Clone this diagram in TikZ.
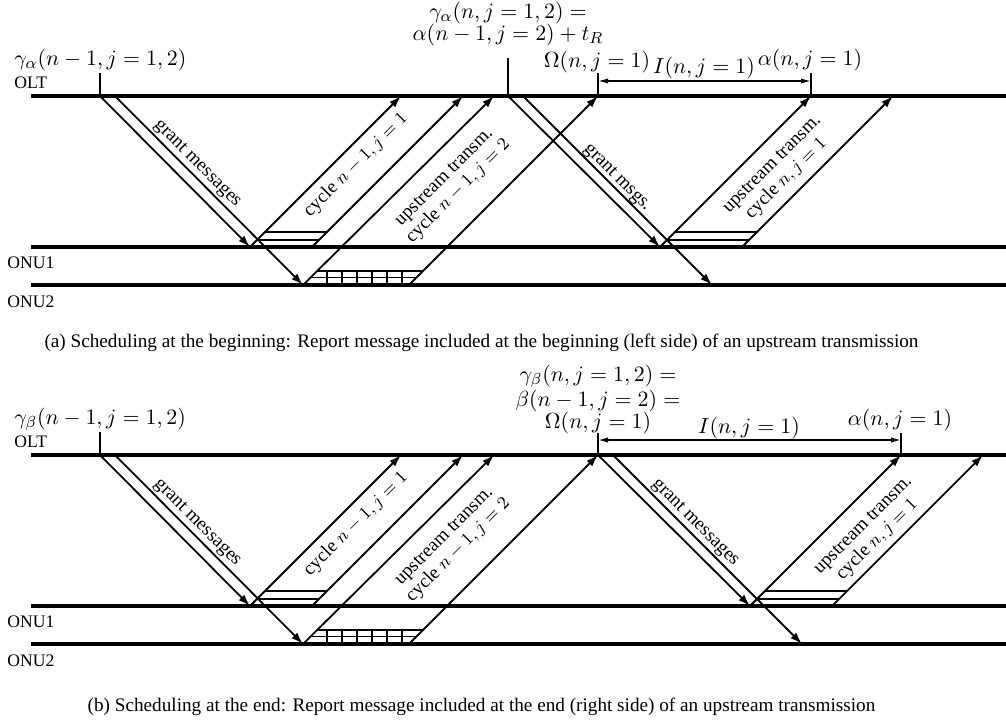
\documentclass[tikz,border=0pt]{standalone}
\usepackage[no-math]{fontspec}
\setmainfont{Liberation Serif}
\usepackage{tikz}
\usetikzlibrary{
    arrows.meta,
    positioning,
    calc,
}
\tikzset{
    axisline/.style={line width=1.6pt},
    msgline/.style={line width=0.9pt},
    msgarrow/.style={line width=0.9pt, -{Latex[length=6pt,width=4pt]}},
    tickline/.style={line width=1pt},
    dimline/.style={line width=0.7pt, {Latex[length=5pt,width=2.6pt]}-{Latex[length=5pt,width=2.6pt]}},
    devlabel/.style={font=\fontsize{8.8}{10}\selectfont, inner sep=0pt, anchor=base west},
    mathlabel/.style={font=\fontsize{11}{11}\selectfont, inner sep=0pt, align=center},
    slantlabel/.style={font=\fontsize{9.5}{10}\selectfont, inner sep=0pt, align=center},
    captlabel/.style={font=\fontsize{9.6}{11}\selectfont, inner sep=0pt, anchor=base},
}

\begin{document}
\begin{tikzpicture}[x=0.5pt, y=-0.5pt]
    \useasboundingbox (0,0) rectangle (1006,723);
    \foreach \p/\oy in {a/0, b/359} {
        \foreach \dev/\y/\lx/\ly in {OLT/96/14/88, ONU1/247/7/268, ONU2/285/7/307} {
            \coordinate (\dev-\p-w) at (31,\y+\oy);
            \coordinate (\dev-\p-e) at (1006,\y+\oy);
            \draw[axisline] (\dev-\p-w) -- (\dev-\p-e);
            \node[devlabel] (lab-\dev-\p) at (\lx,\ly+\oy) {\dev};
        }
        % first grant and the upstream bursts of cycle n-1
        \coordinate (tick0-\p) at (100,73+\oy);
        \coordinate (gA-\p) at (100,96+\oy);
        \coordinate (gB-\p) at (115,96+\oy);
        \coordinate (gA1-\p) at (250,247+\oy);
        \coordinate (gB2-\p) at (303,285+\oy);
        \draw[tickline] (tick0-\p) -- (gA-\p);
        \draw[msgarrow] (gA-\p) -- (gA1-\p);
        \draw[msgarrow] (gB-\p) -- (gB2-\p);
        \coordinate (u1L-\p) at (250,247+\oy);
        \coordinate (u1R-\p) at (312,247+\oy);
        \coordinate (u1Lt-\p) at (401,96+\oy);
        \coordinate (u1Rt-\p) at (463,96+\oy);
        \draw[msgarrow] (u1L-\p) -- (u1Lt-\p);
        \draw[msgarrow] (u1R-\p) -- (u1Rt-\p);
        \foreach \h in {7,15}
            \draw[msgline] ($(u1L-\p)+(\h,-\h)$) -- ($(u1R-\p)+(\h,-\h)$);
        \coordinate (u2L-\p) at (303,285+\oy);
        \coordinate (u2R-\p) at (409,285+\oy);
        \coordinate (u2Lt-\p) at (494,96+\oy);
        \coordinate (u2Rt-\p) at (598,96+\oy);
        \draw[msgarrow] (u2L-\p) -- (u2Lt-\p);
        \draw[msgarrow] (u2R-\p) -- (u2Rt-\p);
        \foreach \h in {7.5,14}
            \draw[msgline] ($(u2L-\p)+(\h,-\h)$) -- ($(u2R-\p)+(\h,-\h)$);
        \foreach \k in {0,...,5}
            \draw[msgline] ({326.7+15*\k},271+\oy) -- ++(0,14);
        \node[slantlabel, rotate=-45] (gl1-\p) at (197,164+\oy) {grant messages};
        \node[slantlabel, rotate=45] (cl1-\p) at (356,165+\oy) {cycle $n-1, j=1$};
        \node[slantlabel, rotate=45] (cl2-\p) at (452,185+\oy) {upstream transm.\\cycle $n-1, j=2$};
    }
    \node[mathlabel, anchor=base west] (gam0-a) at (14,65) {$\gamma_\alpha(n-1, j=1,2)$};
    \node[mathlabel, anchor=base west] (gam0-b) at (14,424) {$\gamma_\beta(n-1, j=1,2)$};

    % (a) second grant follows the last report
    \coordinate (tick1-a) at (508,58);
    \coordinate (hA-a) at (508,96);
    \coordinate (hB-a) at (523,96);
    \coordinate (hA1-a) at (660,247);
    \coordinate (hB2-a) at (712,285);
    \draw[tickline] (tick1-a) -- (hA-a);
    \draw[msgarrow] (hA-a) -- (hA1-a);
    \draw[msgarrow] (hB-a) -- (hB2-a);
    \coordinate (v1L-a) at (660,247);
    \coordinate (v1R-a) at (742,247);
    \coordinate (v1Lt-a) at (811,96);
    \coordinate (v1Rt-a) at (893,96);
    \draw[msgarrow] (v1L-a) -- (v1Lt-a);
    \draw[msgarrow] (v1R-a) -- (v1Rt-a);
    \foreach \h in {7,15}
        \draw[msgline] ($(v1L-a)+(\h,-\h)$) -- ($(v1R-a)+(\h,-\h)$);
    \coordinate (om-a) at (598,73);
    \coordinate (al-a) at (811,73);
    \draw[tickline] (om-a) -- (u2Rt-a);
    \draw[tickline] (al-a) -- (v1Lt-a);
    \coordinate (dimL-a) at (598,81);
    \coordinate (dimR-a) at (811,81);
    \draw[dimline] (dimL-a) -- (dimR-a);
    \node[mathlabel, anchor=south] (gam1-a) at (508,46) {$\gamma_\alpha(n, j=1,2) =$\\$\alpha(n-1, j=2)+t_R$};
    \node[mathlabel, anchor=south] (omlab-a) at (597,73) {$\Omega(n, j=1)$};
    \node[mathlabel, anchor=south] (ilab-a) at (704,79) {$I(n, j=1)$};
    \node[mathlabel, anchor=south] (allab-a) at (810,71) {$\alpha(n, j=1)$};
    \node[slantlabel, rotate=-45] (gl2-a) at (617,178) {grant msgs.};
    \node[slantlabel, rotate=45] (cl3-a) at (780,172) {upstream transm.\\cycle $n, j=1$};
    \node[captlabel] (capt-a) at (481.5,347.5) {(a) Scheduling at the beginning: Report message included at the beginning (left side) of an upstream transmission};

    % (b) second grant starts when the last report arrives
    \coordinate (tick1-b) at (598,433);
    \coordinate (hA-b) at (598,455);
    \coordinate (hB-b) at (613,455);
    \coordinate (hA1-b) at (750,606);
    \coordinate (hB2-b) at (802,644);
    \draw[tickline] (tick1-b) -- (hA-b);
    \draw[msgarrow] (hA-b) -- (hA1-b);
    \draw[msgarrow] (hB-b) -- (hB2-b);
    \coordinate (v1L-b) at (750,606);
    \coordinate (v1R-b) at (832,606);
    \coordinate (v1Lt-b) at (901,455);
    \coordinate (v1Rt-b) at (983,455);
    \draw[msgarrow] (v1L-b) -- (v1Lt-b);
    \draw[msgarrow] (v1R-b) -- (v1Rt-b);
    \foreach \h in {7,15}
        \draw[msgline] ($(v1L-b)+(\h,-\h)$) -- ($(v1R-b)+(\h,-\h)$);
    \coordinate (al-b) at (901,433);
    \draw[tickline] (al-b) -- (v1Lt-b);
    \coordinate (dimL-b) at (598,440);
    \coordinate (dimR-b) at (901,440);
    \draw[dimline] (dimL-b) -- (dimR-b);
    \node[mathlabel, anchor=south] (gam1-b) at (598,434) {$\gamma_\beta(n, j=1,2) =$\\$\beta(n-1, j=2) =$\\$\Omega(n, j=1)$};
    \node[mathlabel, anchor=south] (ilab-b) at (749,439) {$I(n, j=1)$};
    \node[mathlabel, anchor=south] (allab-b) at (900,431) {$\alpha(n, j=1)$};
    \node[slantlabel, rotate=-45] (gl2-b) at (695,523) {grant messages};
    \node[slantlabel, rotate=45] (cl3-b) at (871,533) {upstream transm.\\cycle $n, j=1$};
    \node[captlabel] (capt-b) at (481.5,711) {(b) Scheduling at the end: Report message included at the end (right side) of an upstream transmission};
\end{tikzpicture}
\end{document}
